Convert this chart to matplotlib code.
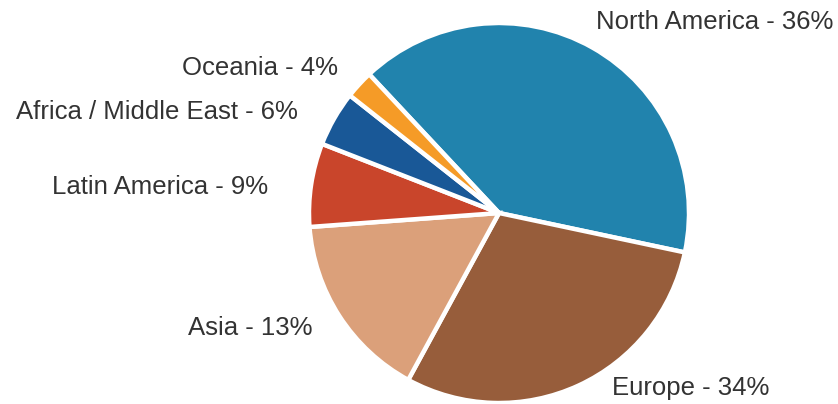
import matplotlib
matplotlib.use("Agg")
import matplotlib.pyplot as plt

regions = ["North America", "Europe", "Asia", "Latin America",
           "Africa / Middle East", "Oceania"]
slice_values = [40.3, 29.6, 15.9, 7.1, 4.7, 2.4]
label_pcts = [36, 34, 13, 9, 6, 4]
colors = ["#2183AD", "#975D3B", "#DBA07A", "#C9452B", "#195897", "#F59B27"]

W, H = 838, 404
fig = plt.figure(figsize=(W / 100, H / 100), dpi=100)
ax = fig.add_axes([0, 0, 1, 1])

cx, cy, r = 499, H - 213, 190
ax.pie(slice_values, colors=colors, startangle=133.1, counterclock=False,
       center=(cx, cy), radius=r,
       wedgeprops=dict(edgecolor="white", linewidth=3.2, antialiased=True))
ax.set_xlim(0, W)
ax.set_ylim(0, H)
ax.set_aspect("equal")
ax.axis("off")

# label placement (pixel coords from top-left): (x, y, ha)
label_pos = [
    (833, 22, "right"),
    (612, 388, "left"),
    (312, 328, "right"),
    (268, 187, "right"),
    (298, 112, "right"),
    (338, 68, "right"),
]
for name, pct, (x, y, ha) in zip(regions, label_pcts, label_pos):
    ax.text(x, H - y, f"{name} - {pct}%", ha=ha, va="center",
            fontsize=18.5, family=["Liberation Sans", "DejaVu Sans"],
            color="#333333")

fig.savefig("out.png", dpi=100)
